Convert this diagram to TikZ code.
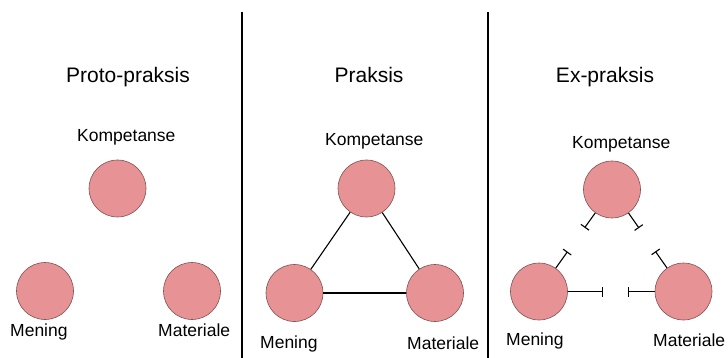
\documentclass[tikz,border=0pt]{standalone}
\usepackage{fontspec}
\setmainfont{Liberation Sans}
\usetikzlibrary{calc,arrows.meta}
\definecolor{rosa}{RGB}{231,146,149}
\definecolor{rosaline}{RGB}{125,82,82}

\begin{document}
\begin{tikzpicture}[x=1pt, y=-1pt,
	ball/.style={circle, minimum size=57pt, inner sep=0pt, fill=rosa, draw=rosaline, line width=0.6pt},
	title/.style={anchor=base, font=\fontsize{21}{24}\selectfont},
	lbl/.style={anchor=base west, inner sep=0pt, font=\fontsize{17.5}{20}\selectfont},
	link/.style={line width=1.1pt},
	stub/.style={line width=1.1pt, -{Bar[width=10pt,line width=1.1pt]}}]
	%%%%% START %%%%%
	
	\useasboundingbox (0, 0) rectangle (728, 358);
	
	% dividers
	\draw[line width=1.6pt] (242, 12) -- (242, 358);
	\draw[line width=1.6pt] (488, 12) -- (488, 358);
	
	% Proto-praksis
	\node[title] (t1) at (128, 83) {Proto-praksis};
	\node[ball] (k1) at (117.5, 188.5) {};
	\node[ball] (me1) at (45, 291) {};
	\node[ball] (ma1) at (192, 291) {};
	\node[lbl] (k1l) at (77, 142) {Kompetanse};
	\node[lbl] (me1l) at (10, 336) {Mening};
	\node[lbl] (ma1l) at (158, 336) {Materiale};
	
	% Praksis
	\node[title] (t2) at (369, 83) {Praksis};
	\node[ball] (k2) at (366.5, 188.5) {};
	\node[ball] (me2) at (294.5, 293) {};
	\node[ball] (ma2) at (435, 293) {};
	\node[lbl] (k2l) at (325, 146) {Kompetanse};
	\node[lbl] (me2l) at (260, 348) {Mening};
	\node[lbl] (ma2l) at (407, 349) {Materiale};
	\draw[link] (k2) -- (me2);
	\draw[link] (k2) -- (ma2);
	\draw[link] (me2) -- (ma2);
	
	% Ex-praksis
	\node[title] (t3) at (605, 83) {Ex-praksis};
	\node[ball] (k3) at (612, 189.5) {};
	\node[ball] (me3) at (539, 291.5) {};
	\node[ball] (ma3) at (683.5, 291.5) {};
	\node[lbl] (k3l) at (572, 149) {Kompetanse};
	\node[lbl] (me3l) at (506, 345) {Mening};
	\node[lbl] (ma3l) at (653, 346) {Materiale};
	
	\coordinate (k3me) at ($(k3)!47pt!(me3)$);
	\coordinate (k3ma) at ($(k3)!47pt!(ma3)$);
	\coordinate (me3k) at ($(me3)!49pt!(k3)$);
	\coordinate (ma3k) at ($(ma3)!49pt!(k3)$);
	\coordinate (me3ma) at ($(me3)!64pt!(ma3)$);
	\coordinate (ma3me) at ($(ma3)!56pt!(me3)$);
	\draw[stub] (k3) -- (k3me);
	\draw[stub] (k3) -- (k3ma);
	\draw[stub] (me3) -- (me3k);
	\draw[stub] (ma3) -- (ma3k);
	\draw[stub] (me3) -- (me3ma);
	\draw[stub] (ma3) -- (ma3me);
	
	%%%%% END %%%%%
\end{tikzpicture}
\end{document}
